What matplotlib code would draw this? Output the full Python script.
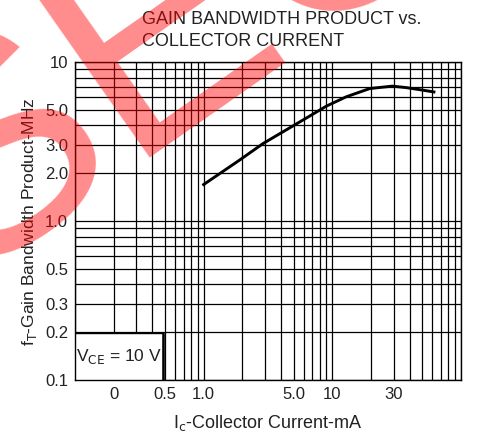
import matplotlib
matplotlib.use("Agg")
import matplotlib.pyplot as plt
from matplotlib.patches import Rectangle
from matplotlib.ticker import LogLocator, NullFormatter

plt.rcParams['font.family'] = ['Liberation Sans', 'DejaVu Sans']

# collector current (mA) vs gain bandwidth product (MHz)
ic_ma = [1.0, 1.9, 2.9, 4.0, 5.9, 9.0, 12.8, 19.6, 29.3, 37.2, 47.2, 61.8]
ft_mhz = [1.70, 2.42, 3.08, 3.59, 4.32, 5.29, 6.05, 6.83, 7.07, 6.93, 6.73, 6.50]

x_ticks = [0.2, 0.5, 1.0, 5.0, 10, 30]
x_labels = ['0', '0.5', '1.0', '5.0', '10', '30']
y_ticks = [0.1, 0.2, 0.3, 0.5, 1.0, 2.0, 3.0, 5.0, 10]
y_labels = ['0.1', '0.2', '0.3', '0.5', '1.0', '2.0', '3.0', '5.0', '10']

txt = '#222222'

fig = plt.figure(figsize=(4.81, 4.32), dpi=100)
ax = fig.add_axes([0.156, 0.120, 0.802, 0.736])
ax.set_xscale('log')
ax.set_yscale('log')
ax.set_xlim(0.1, 100)
ax.set_ylim(0.1, 10)

ax.xaxis.set_minor_locator(LogLocator(base=10, subs=range(1, 10)))
ax.yaxis.set_minor_locator(LogLocator(base=10, subs=range(1, 10)))
ax.xaxis.set_minor_formatter(NullFormatter())
ax.yaxis.set_minor_formatter(NullFormatter())
ax.set_xticks(x_ticks)
ax.set_xticklabels(x_labels)
ax.set_yticks(y_ticks)
ax.set_yticklabels(y_labels)
ax.tick_params(which='both', length=0, labelsize=12, labelcolor=txt, pad=5)
ax.grid(True, which='both', color='black', linewidth=0.9)
ax.set_axisbelow(True)
for s in ax.spines.values():
    s.set_linewidth(1.0)

ax.plot(ic_ma, ft_mhz, color='black', linewidth=2.1, zorder=3)

box = Rectangle((0, 0), 0.229, 0.149, transform=ax.transAxes,
                facecolor='white', edgecolor='black', linewidth=1.0, zorder=4)
ax.add_patch(box)
ax.plot([0.229, 0.229], [0, 0.149], transform=ax.transAxes, color='black',
        linewidth=1.8, zorder=5)
ax.text(0.114, 0.073, r'V$_{\mathrm{CE}}$ = 10 V', transform=ax.transAxes,
        ha='center', va='center', fontsize=12.5, color=txt, zorder=6)

ax.set_xlabel(r'I$_{\mathrm{c}}$-Collector Current-mA', fontsize=13, color=txt, labelpad=8)
ax.set_ylabel(r'f$_{\mathrm{T}}$-Gain Bandwidth Product-MHz', fontsize=12.5, color=txt, labelpad=4)

fig.text(0.295, 0.930, 'GAIN BANDWIDTH PRODUCT vs.\nCOLLECTOR CURRENT',
         ha='left', va='center', fontsize=13, color=txt, linespacing=1.35)

# red watermark
fig.text(-0.083, 0.35, 'SECOS', rotation=35, rotation_mode='anchor',
         ha='left', va='baseline', fontsize=220, color='red', alpha=0.45,
         zorder=20)

fig.savefig('out.png', dpi=100)
